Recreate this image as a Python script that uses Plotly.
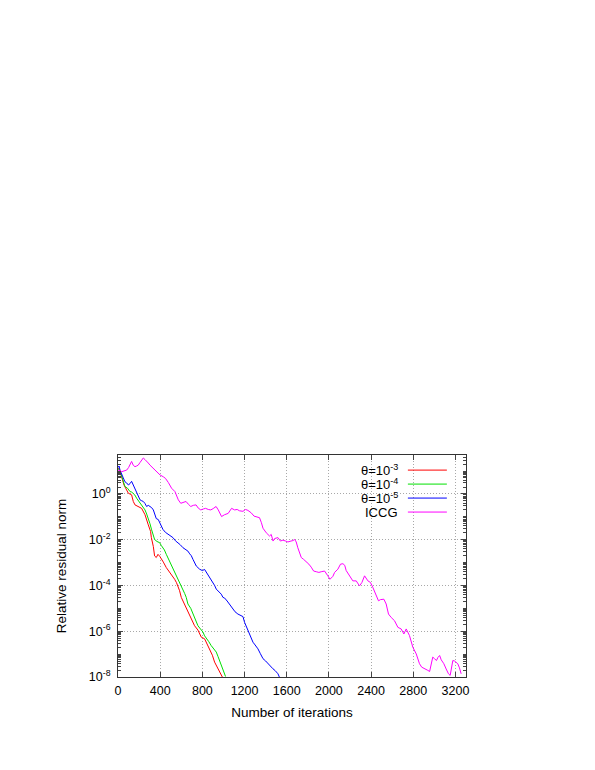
import plotly.graph_objects as go

# iterations and log10(relative residual norm)
red_x = [0, 10, 34, 57, 82, 98, 129, 145, 161, 192, 224, 256, 268, 287, 309, 316, 335, 347,
         363, 379, 395, 410, 430, 458, 480, 505, 520, 537, 555, 569, 584, 600, 630, 663,
         690, 726, 758, 790, 821, 845, 869, 895, 916, 948, 963, 979, 995]
red_log = [1.08, 1.12, 0.75, 0.39, 0.17, 0.03, -0.04, -0.33, -0.48, -0.55, -0.63, -0.91, -1.05,
           -1.35, -1.64, -1.9, -2.3, -2.71, -2.78, -2.64, -2.72, -2.86, -2.98, -3.22, -3.35,
           -3.51, -3.58, -3.73, -3.88, -4.02, -4.23, -4.52, -4.8, -5.17, -5.4, -5.76, -5.95,
           -6.26, -6.33, -6.55, -6.84, -7.05, -7.35, -7.64, -7.75, -7.9, -8.05]

green_x = [0, 15, 40, 66, 90, 114, 130, 145, 160, 177, 195, 209, 230, 256, 272, 287, 303,
           319, 335, 347, 370, 395, 410, 426, 440, 458, 475, 489, 510, 537, 560, 584, 600,
           616, 632, 647, 663, 690, 711, 735, 758, 782, 806, 821, 837, 860, 884, 908, 932,
           948, 963, 980, 995, 1010, 1020]
green_log = [1.1, 1.05, 0.7, 0.32, 0.25, 0.1, 0.08, 0.03, -0.05, -0.19, -0.3, -0.41, -0.55,
             -0.7, -0.88, -1.06, -1.3, -1.57, -1.8, -1.99, -2.08, -2.13, -2.25, -2.35, -2.45,
             -2.64, -2.8, -3.0, -3.2, -3.43, -3.62, -3.87, -4.0, -4.16, -4.35, -4.52, -4.81,
             -5.0, -5.25, -5.5, -5.76, -5.9, -6.04, -6.2, -6.33, -6.45, -6.63, -6.78, -6.91,
             -7.1, -7.28, -7.45, -7.64, -7.82, -7.98]

blue_x = [0, 10, 19, 34, 50, 66, 82, 98, 114, 129, 145, 161, 177, 193, 209, 225, 240, 256,
          271, 287, 303, 319, 335, 351, 363, 382, 400, 426, 450, 474, 500, 521, 545, 569,
          590, 616, 640, 663, 680, 695, 711, 742, 774, 800, 821, 837, 853, 875, 900, 916,
          932, 955, 979, 995, 1011, 1035, 1058, 1074, 1090, 1110, 1137, 1160, 1185, 1200,
          1225, 1248, 1265, 1280, 1300, 1327, 1350, 1375, 1400, 1422, 1445, 1469, 1490,
          1517, 1530]
blue_log = [1.15, 1.22, 1.04, 0.83, 0.7, 0.53, 0.48, 0.39, 0.45, 0.55, 0.39, 0.2, 0.03,
            -0.1, -0.26, -0.3, -0.33, -0.42, -0.55, -0.5, -0.55, -0.6, -0.7, -0.9, -1.08,
            -1.12, -1.3, -1.55, -1.68, -1.77, -1.85, -1.91, -2.05, -2.13, -2.22, -2.35, -2.42,
            -2.5, -2.62, -2.7, -2.86, -3.15, -3.29, -3.35, -3.3, -3.42, -3.51, -3.65, -3.87,
            -4.0, -4.16, -4.28, -4.38, -4.52, -4.55, -4.68, -4.81, -4.95, -5.03, -5.15, -5.25,
            -5.3, -5.36, -5.61, -5.9, -6.19, -6.35, -6.48, -6.6, -6.77, -6.98, -7.2, -7.3,
            -7.42, -7.55, -7.64, -7.72, -7.86, -8.0]

iccg_x = [0, 20, 34, 60, 82, 100, 114, 129, 145, 161, 177, 192, 210, 224, 240, 256, 271,
          287, 303, 330, 351, 375, 398, 429, 450, 477, 508, 540, 572, 595, 619, 645, 667,
          690, 714, 740, 761, 785, 809, 830, 856, 880, 903, 930, 951, 982, 1010, 1045, 1077,
          1106, 1130, 1153, 1185, 1210, 1232, 1264, 1290, 1311, 1342, 1360, 1375, 1406,
          1437, 1453, 1470, 1485, 1517, 1540, 1564, 1590, 1611, 1640, 1659, 1675, 1690,
          1705, 1722, 1738, 1760, 1785, 1810, 1832, 1855, 1880, 1905, 1927, 1959, 1990,
          2010, 2038, 2054, 2085, 2110, 2133, 2150, 2164, 2196, 2227, 2259, 2290, 2313,
          2338, 2370, 2394, 2417, 2448, 2470, 2489, 2521, 2543, 2565, 2591, 2622, 2654,
          2685, 2711, 2733, 2764, 2796, 2828, 2859, 2880, 2906, 2938, 2955, 2970, 2985,
          3001, 3020, 3033, 3050, 3065, 3090, 3112, 3134, 3150, 3160, 3175, 3191, 3207,
          3222, 3238, 3254]
iccg_log = [1.0, 1.04, 0.97, 1.0, 1.04, 1.15, 1.26, 1.42, 1.25, 1.19, 1.22, 1.26, 1.38,
            1.48, 1.57, 1.5, 1.4, 1.35, 1.26, 1.15, 1.04, 0.95, 0.83, 0.75, 0.68, 0.5, 0.25,
            0.1, -0.26, -0.41, -0.38, -0.33, -0.45, -0.55, -0.5, -0.48, -0.62, -0.7, -0.66,
            -0.63, -0.68, -0.7, -0.64, -0.55, -0.7, -0.99, -0.91, -0.85, -0.63, -0.7, -0.68,
            -0.74, -0.76, -0.68, -0.72, -0.83, -0.97, -1.0, -1.04, -1.26, -1.5, -1.7, -1.84,
            -1.77, -2.06, -1.95, -1.91, -2.06, -2.02, -2.06, -2.1, -2.06, -2.04, -1.99, -2.1,
            -2.35, -2.55, -2.78, -2.86, -2.95, -3.07, -3.2, -3.37, -3.4, -3.43, -3.4, -3.37,
            -3.58, -3.73, -3.6, -3.43, -3.29, -3.07, -3.05, -3.12, -3.35, -3.58, -3.8, -3.8,
            -4.02, -3.87, -3.58, -3.8, -3.87, -4.09, -4.45, -4.67, -4.62, -4.6, -4.81, -5.25,
            -5.4, -5.54, -5.83, -5.9, -6.12, -5.9, -6.19, -6.7, -6.99, -7.42, -7.57, -7.65,
            -7.71, -7.76, -7.5, -7.13, -7.2, -7.28, -7.15, -7.06, -7.25, -7.42, -7.65, -7.86,
            -7.93, -7.6, -7.28, -7.3, -7.35, -7.42, -7.6, -7.86, -8.05]

series = [
    ("θ=10<sup>-3</sup>", red_x, red_log, "#ff0000"),
    ("θ=10<sup>-4</sup>", green_x, green_log, "#00e000"),
    ("θ=10<sup>-5</sup>", blue_x, blue_log, "#0000ff"),
    ("ICCG", iccg_x, iccg_log, "#ff00ff"),
]

FONT = "Liberation Sans, Arial, sans-serif"
TICK_FS = 12.5
TITLE_FS = 13.5

fig = go.Figure()
for name, xs, ls, color in series:
    fig.add_trace(go.Scatter(
        x=xs, y=[10 ** v for v in ls], mode="lines", name=name,
        line=dict(color=color, width=1), showlegend=False,
    ))

# gnuplot-style key: label on the left, line sample on the right
key_rows = [0.932, 0.869, 0.806, 0.743]
for (name, _, _, color), yk in zip(series, key_rows):
    fig.add_annotation(
        x=0.81, y=yk, xref="paper", yref="paper", text=name, showarrow=False,
        xanchor="right", yanchor="middle", font=dict(family=FONT, size=13, color="black"),
    )
    fig.add_shape(
        type="line", xref="paper", yref="paper", x0=0.833, x1=0.945, y0=yk, y1=yk,
        line=dict(color=color, width=1),
    )

major_y = [1e-8, 1e-6, 1e-4, 1e-2, 1]
minor_y = [k * 10.0 ** e for e in range(-8, 2) for k in range(1, 10)
           if k * 10.0 ** e not in major_y and k * 10.0 ** e < 50]

fig.update_layout(
    width=595, height=770,
    margin=dict(l=110, r=137, t=447, b=101),
    paper_bgcolor="white", plot_bgcolor="white",
    font=dict(family=FONT, size=TICK_FS, color="black"),
    xaxis=dict(
        range=[0, 3300], tickvals=list(range(0, 3201, 400)), automargin=False,
        ticks="inside", ticklen=5, mirror="allticks", showline=True,
        linecolor="#333333", linewidth=1, showgrid=True, gridcolor="#a8a8a8",
        griddash="1px,2px", gridwidth=1, zeroline=False, tickfont=dict(size=TICK_FS),
        ticklabelstandoff=2,
        title=dict(text="Number of iterations", standoff=10, font=dict(size=TITLE_FS)),
    ),
    yaxis=dict(
        type="log", range=[-8, 1.7], tickvals=major_y, automargin=False,
        ticktext=["10<sup>-8</sup>", "10<sup>-6</sup>", "10<sup>-4</sup>",
                  "10<sup>-2</sup>", "10<sup>0</sup>"],
        ticks="inside", ticklen=5, mirror="allticks", showline=True,
        linecolor="#333333", linewidth=1, showgrid=True, gridcolor="#a8a8a8",
        griddash="1px,2px", gridwidth=1, zeroline=False, tickfont=dict(size=TICK_FS),
        ticklabelstandoff=4,
        minor=dict(tickvals=minor_y, ticks="inside", ticklen=3, showgrid=False),
        title=dict(text="Relative residual norm", standoff=19, font=dict(size=TITLE_FS)),
    ),
)

fig.write_html("out.html")
